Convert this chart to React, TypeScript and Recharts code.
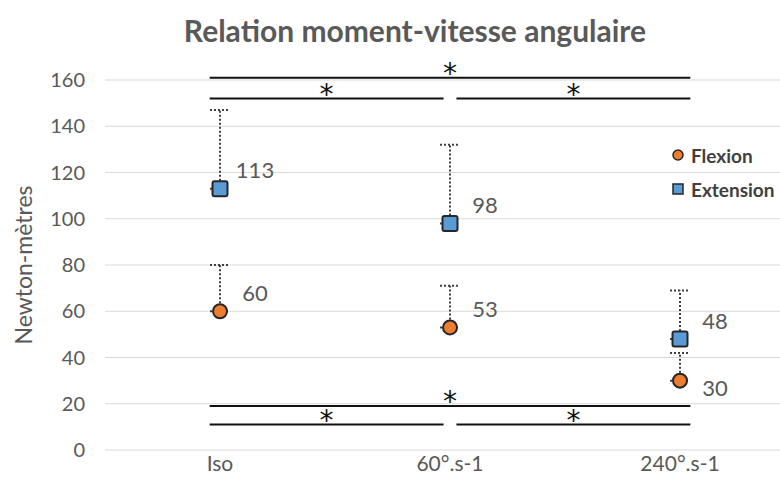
import React from 'react'
import {
  ScatterChart,
  Scatter,
  XAxis,
  YAxis,
  CartesianGrid,
  ErrorBar,
  ReferenceLine,
  ReferenceDot,
} from 'recharts'

const TEXT = '#595959'
const ORANGE = '#ED7D31'
const BLUE = '#5B9BD5'
const EDGE = '#262626'
const GRID = '#D9D9D9'
const FONT = 'Lato, sans-serif'

const categories = ['Iso', '60°.s-1', '240°.s-1']
const flexion = [60, 53, 30]
const extension = [113, 98, 48]
// top of the (upward only) error bars
const flexionUpper = [80, 71, 42]
const extensionUpper = [147, 132, 69]
const yTicks = [0, 20, 40, 60, 80, 100, 120, 140, 160]

// significance brackets between categories, at a given moment level
const brackets = [
  { from: 0, to: 2, level: 161 },
  { from: 0, to: 1, level: 152 },
  { from: 1, to: 2, level: 152 },
  { from: 0, to: 2, level: 19 },
  { from: 0, to: 1, level: 11 },
  { from: 1, to: 2, level: 11 },
]

const toPoints = (values: number[], upper: number[]) =>
  values.map((v, i) => ({ x: i, y: v, err: [0, upper[i] - v] }))

const flexionData = toPoints(flexion, flexionUpper)
const extensionData = toPoints(extension, extensionUpper)

function bracketExtent(from: number, to: number) {
  const outer = 0.045
  const inner = 0.028
  const x1 = from === 0 ? from - outer : from + inner
  const x2 = to === 2 ? to + outer : to - inner
  return [x1, x2]
}

function ValueLabel({ cx, cy, value, below }: { cx: number; cy: number; value: number; below?: boolean }) {
  return (
    <text
      x={cx + 35}
      y={below ? cy + 7 : cy - 19}
      textAnchor="middle"
      dominantBaseline="central"
      fontSize={22}
      fill={TEXT}
      fontFamily={FONT}
    >
      {value}
    </text>
  )
}

function CircleShape(props: any) {
  const { cx, cy, payload } = props
  // label goes under the point when the extension marker sits just above it
  const below = extension[payload.x] - payload.y < 25
  return (
    <g>
      <circle cx={cx} cy={cy} r={7} fill={ORANGE} stroke={EDGE} strokeWidth={2} />
      <ValueLabel cx={cx} cy={cy} value={payload.y} below={below} />
    </g>
  )
}

function SquareShape(props: any) {
  const { cx, cy, payload } = props
  return (
    <g>
      <rect x={cx - 7.5} y={cy - 7.5} width={15} height={15} rx={2} fill={BLUE} stroke={EDGE} strokeWidth={2} />
      <ValueLabel cx={cx} cy={cy} value={payload.y} />
    </g>
  )
}

function Asterisk(props: any) {
  return (
    <text x={props.cx} y={props.cy + 5} textAnchor="middle" fontSize={28} fill="#111" fontFamily="DejaVu Sans, sans-serif">
      *
    </text>
  )
}

function LegendBox() {
  const row = { display: 'flex', alignItems: 'center', height: 34 } as const
  return (
    <div
      style={{
        position: 'absolute',
        left: 670,
        top: 138,
        fontFamily: FONT,
        fontSize: 19,
        color: '#404040',
        fontWeight: 700,
      }}
    >
      <div style={row}>
        <svg width={16} height={16}>
          <circle cx={8} cy={8} r={5} fill={ORANGE} stroke={EDGE} strokeWidth={1.5} />
        </svg>
        <span style={{ marginLeft: 5 }}>Flexion</span>
      </div>
      <div style={row}>
        <svg width={16} height={16}>
          <rect x={3} y={3} width={10} height={10} fill={BLUE} stroke={EDGE} strokeWidth={1.5} />
        </svg>
        <span style={{ marginLeft: 5 }}>Extension</span>
      </div>
    </div>
  )
}

export default function App() {
  return (
    <div
      style={{
        position: 'fixed',
        left: 0,
        top: 0,
        width: 780,
        height: 491,
        overflow: 'hidden',
        background: '#fff',
        fontFamily: FONT,
      }}
    >
      <div
        style={{
          position: 'absolute',
          top: 12,
          left: 0,
          width: 830,
          textAlign: 'center',
          fontSize: 30,
          fontWeight: 700,
          color: TEXT,
        }}
      >
        Relation moment-vitesse angulaire
      </div>
      <ScatterChart width={800} height={491} margin={{ top: 80, right: 5, bottom: 11, left: 0 }}>
        <CartesianGrid vertical={false} stroke={GRID} />
        <XAxis
          type="number"
          dataKey="x"
          domain={[-0.5, 2.5]}
          ticks={[0, 1, 2]}
          tickFormatter={(i: number) => categories[i]}
          axisLine={false}
          tickLine={false}
          tickSize={0}
          tickMargin={6}
          height={30}
          tick={{ fontSize: 21, fill: TEXT, fontFamily: FONT }}
        />
        <YAxis
          type="number"
          dataKey="y"
          domain={[0, 160]}
          ticks={yTicks}
          axisLine={false}
          tickLine={false}
          tickSize={0}
          tickMargin={20}
          width={105}
          tick={{ fontSize: 20, fill: TEXT, fontFamily: FONT }}
          label={(p: any) => {
            const vb = p.viewBox || { x: 0, y: 80, width: 105, height: 370 }
            const cy = vb.y + vb.height / 2
            return (
              <text
                x={23}
                y={cy}
                transform={`rotate(-90, 23, ${cy})`}
                textAnchor="middle"
                dominantBaseline="central"
                fontSize={23}
                fill={TEXT}
                fontFamily={FONT}
              >
                Newton-mètres
              </text>
            )
          }}
        />
        {brackets.map((b, i) => {
          const [x1, x2] = bracketExtent(b.from, b.to)
          return (
            <ReferenceLine
              key={`l${i}`}
              segment={[
                { x: x1, y: b.level },
                { x: x2, y: b.level },
              ]}
              stroke="#111"
              strokeWidth={2}
              ifOverflow="visible"
            />
          )
        })}
        {brackets.map((b, i) => {
          const [x1, x2] = bracketExtent(b.from, b.to)
          return (
            <ReferenceDot
              key={`a${i}`}
              x={(x1 + x2) / 2}
              y={b.level}
              ifOverflow="visible"
              shape={Asterisk}
            />
          )
        })}
        <Scatter name="Flexion" data={flexionData} shape={CircleShape} isAnimationActive={false}>
          <ErrorBar dataKey="err" direction="y" width={10} stroke="#404040" strokeWidth={2} strokeDasharray="2 2" />
        </Scatter>
        <Scatter name="Extension" data={extensionData} shape={SquareShape} isAnimationActive={false}>
          <ErrorBar dataKey="err" direction="y" width={10} stroke="#404040" strokeWidth={2} strokeDasharray="2 2" />
        </Scatter>
      </ScatterChart>
      <LegendBox />
    </div>
  )
}
